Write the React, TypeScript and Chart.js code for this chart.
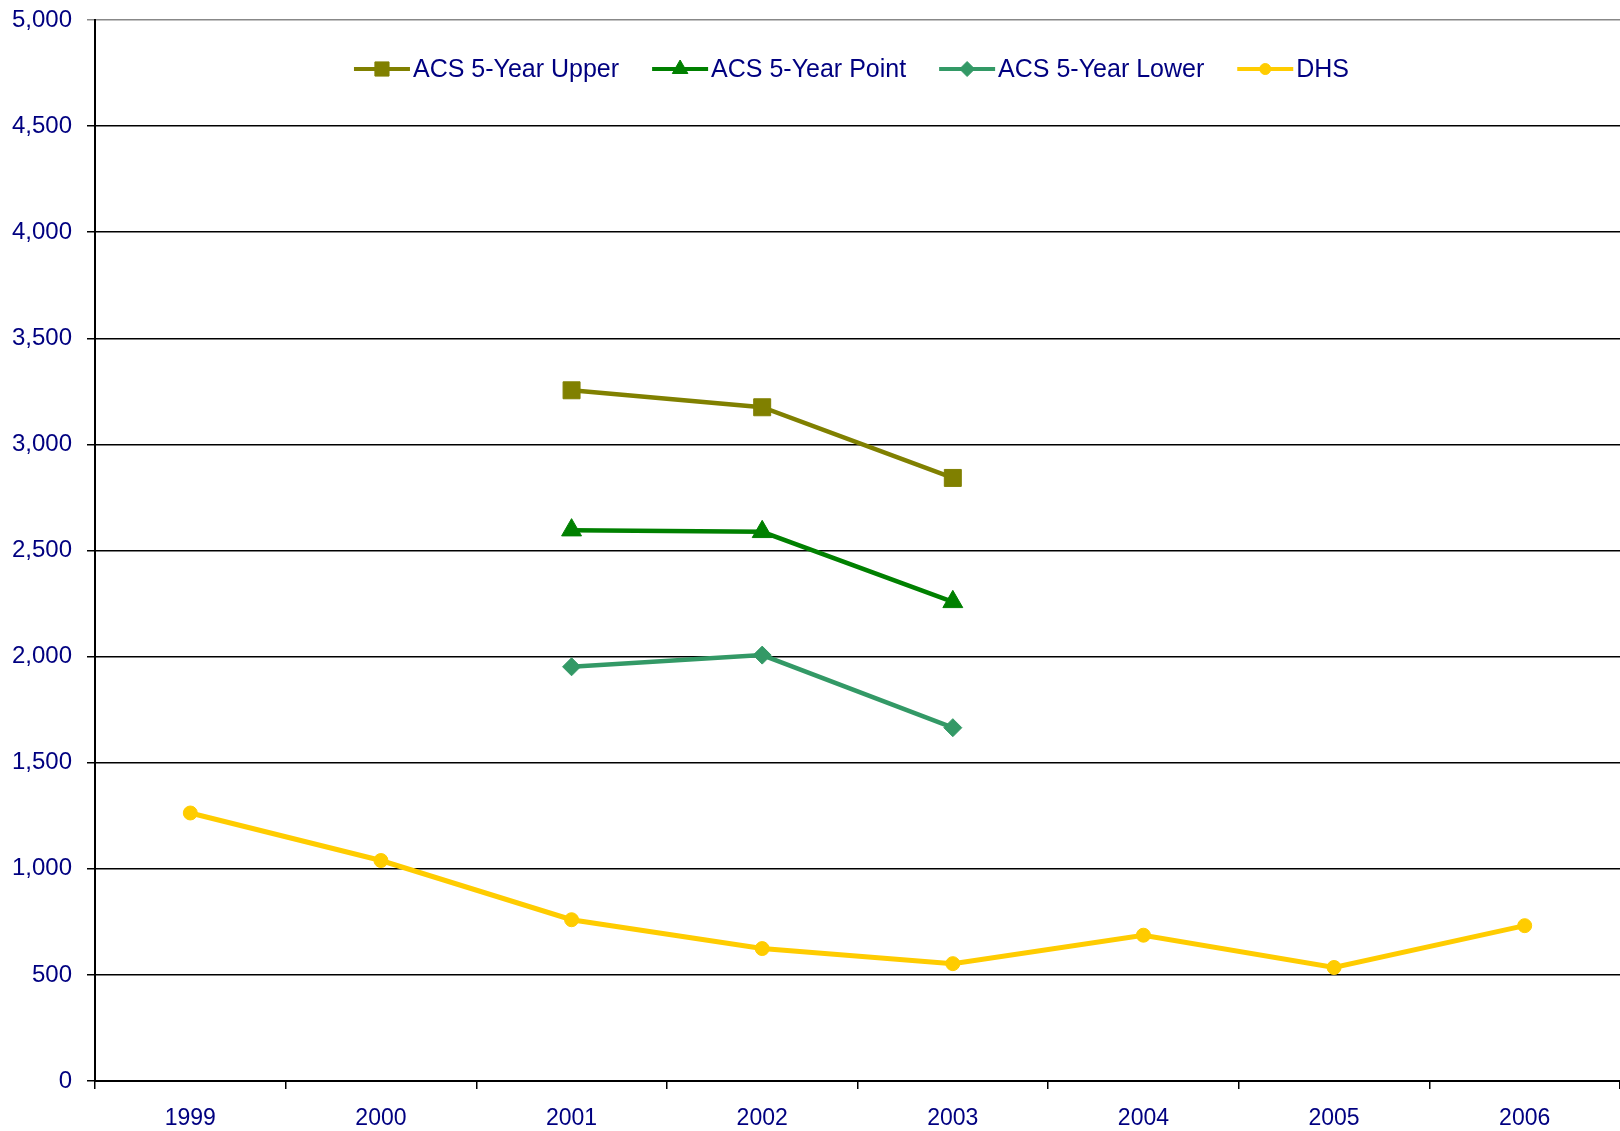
import React, { useEffect, useRef } from 'react';
import { Chart, registerables } from 'chart.js';
import { drawPoint } from 'chart.js/helpers';

Chart.register(...registerables);

const FONT = "'Liberation Sans', Arial, sans-serif";
const TEXT_COLOR = '#000080';

const years = ['1999', '2000', '2001', '2002', '2003', '2004', '2005', '2006'];
const acsUpper = [null, null, 3255, 3175, 2842, null, null, null];
const acsPoint = [null, null, 2596, 2588, 2258, null, null, null];
const acsLower = [null, null, 1952, 2007, 1665, null, null, null];
const dhs = [1263, 1039, 760, 624, 553, 687, 535, 732];

const seriesNames = ['ACS 5-Year Upper', 'ACS 5-Year Point', 'ACS 5-Year Lower', 'DHS'];
const seriesColors = ['#808000', '#008000', '#339966', '#FFCC00'];
const seriesStyles = ['rect', 'triangle', 'rectRot', 'circle'];
const seriesRadius = [12, 11.5, 9, 7];
const seriesLineWidth = [4.5, 4.5, 4.5, 5];
const legendRadius = [10, 9, 7.5, 5.5];

const yMin = 0;
const yMax = 5000;
const yStep = 500;

const insideLegend = {
  id: 'insideLegend',
  afterDraw(chart: any) {
    const { ctx, chartArea } = chart;
    const lineLen = 56;
    const gap = 3;
    const itemGap = 33;
    ctx.save();
    ctx.font = `25px ${FONT}`;
    const dsets = chart.data.datasets;
    const widths = dsets.map((d: any) => ctx.measureText(d.label).width);
    const total =
      widths.reduce((a: number, w: number) => a + lineLen + gap + w, 0) + itemGap * (dsets.length - 1);
    let x = (chartArea.left + chartArea.right) / 2 - total / 2 - 6;
    const y = chartArea.top + 49;
    dsets.forEach((d: any, i: number) => {
      ctx.strokeStyle = d.borderColor;
      ctx.lineWidth = 4;
      ctx.beginPath();
      ctx.moveTo(x, y);
      ctx.lineTo(x + lineLen, y);
      ctx.stroke();
      ctx.fillStyle = d.borderColor;
      ctx.lineWidth = 1;
      drawPoint(ctx, { pointStyle: d.pointStyle, rotation: 0, radius: legendRadius[i], borderWidth: 1 } as any, x + lineLen / 2, y);
      ctx.fillStyle = TEXT_COLOR;
      ctx.textBaseline = 'middle';
      ctx.textAlign = 'left';
      ctx.fillText(d.label, x + lineLen + gap, y + 1);
      x += lineLen + gap + widths[i] + itemGap;
    });
    ctx.restore();
  },
};

export default function App() {
  const ref = useRef<HTMLCanvasElement | null>(null);

  useEffect(() => {
    if (!ref.current) return;
    const seriesData = [acsUpper, acsPoint, acsLower, dhs];
    const chart = new Chart(ref.current, {
      type: 'line',
      data: {
        labels: years,
        datasets: seriesNames.map((name, i) => ({
          label: name,
          data: seriesData[i],
          borderColor: seriesColors[i],
          backgroundColor: seriesColors[i],
          pointBackgroundColor: seriesColors[i],
          pointBorderColor: seriesColors[i],
          pointStyle: seriesStyles[i] as any,
          pointRadius: seriesRadius[i],
          pointBorderWidth: 1,
          borderWidth: seriesLineWidth[i],
          tension: 0,
          spanGaps: false,
          fill: false,
        })),
      },
      options: {
        animation: false,
        responsive: false,
        maintainAspectRatio: false,
        layout: { autoPadding: false, padding: { top: 20, left: 0, right: 0, bottom: 0 } },
        plugins: {
          legend: { display: false },
          tooltip: { enabled: false },
        },
        scales: {
          x: {
            offset: true,
            border: { display: true, color: '#000', width: 2 },
            grid: {
              offset: true,
              drawOnChartArea: false,
              drawTicks: true,
              tickLength: 8,
              color: '#000',
              lineWidth: 1.5,
            },
            ticks: {
              color: TEXT_COLOR,
              font: { family: FONT, size: 23 },
              padding: 16,
              maxRotation: 0,
            },
            afterFit(scale: any) {
              scale.height = 50;
              scale.paddingLeft = 0;
              scale.paddingRight = 0;
            },
          },
          y: {
            min: yMin,
            max: yMax,
            border: { display: true, color: '#000', width: 2 },
            grid: {
              drawTicks: true,
              tickLength: 8,
              color: (c: any) => (c.tick && c.tick.value === yMax ? '#888' : '#000'),
              lineWidth: 1.5,
            },
            ticks: {
              stepSize: yStep,
              color: TEXT_COLOR,
              font: { family: FONT, size: 24 },
              padding: 15,
              callback: (v: any) => Number(v).toLocaleString('en-US'),
            },
            afterFit(scale: any) {
              scale.width = 95;
              scale.paddingTop = 0;
              scale.paddingBottom = 0;
            },
          },
        },
      },
      plugins: [insideLegend],
    });
    return () => chart.destroy();
  }, []);

  return (
    <div style={{ position: 'fixed', left: 0, top: 0, width: 1620, height: 1131, background: '#fff' }}>
      <canvas ref={ref} width={1620} height={1131} style={{ display: 'block', width: 1620, height: 1131 }} />
    </div>
  );
}
